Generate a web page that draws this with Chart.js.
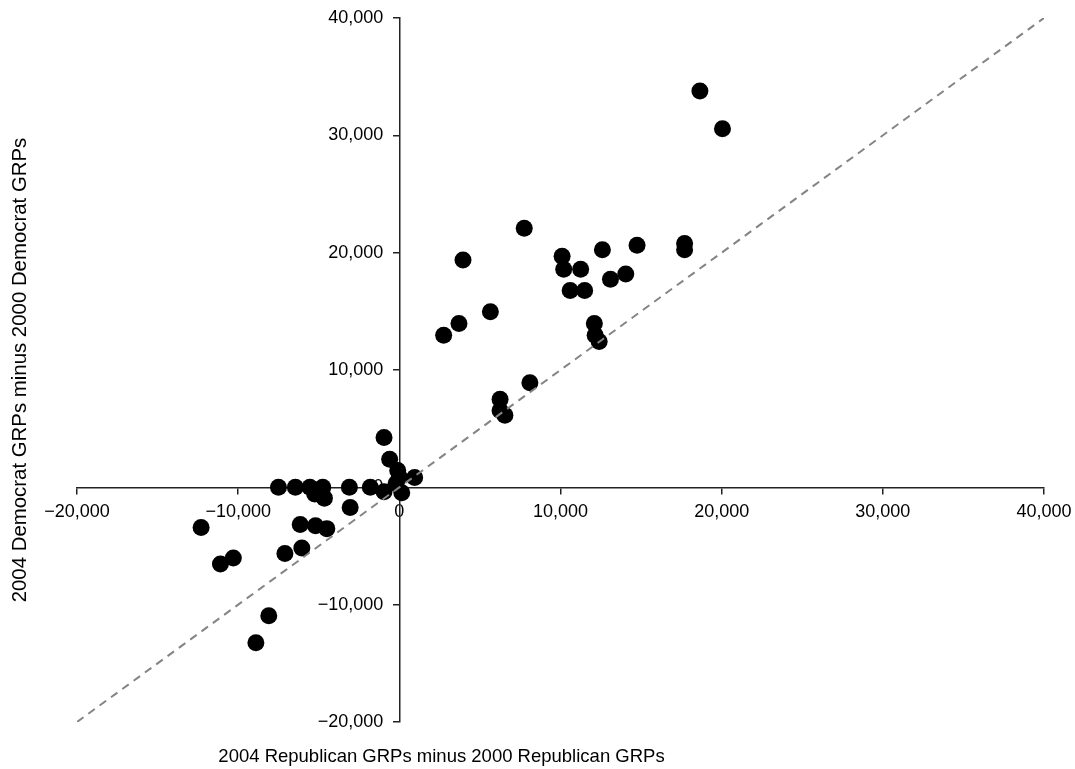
<!DOCTYPE html>
<html>
<head>
<meta charset="utf-8">
<script src="https://cdn.jsdelivr.net/npm/chart.js@4.4.0/dist/chart.umd.min.js"></script>
<style>
  html, body { margin: 0; padding: 0; background: #ffffff; }
  #wrap { width: 1075px; height: 769px; }
</style>
</head>
<body>
<div id="wrap"><canvas id="c" width="1075" height="769"></canvas></div>
<script>
// Change in Republican GRPs (2004 minus 2000), one value per market
const repChange = [
  -12300, -11100, -10300, -8900, -8100, -7500, -7100, -6450, -6150, -6050,
  -5550, -5250, -5200, -4750, -4650, -4500, -3100, -3050, -1800, -950,
  -600, -950, -100, 0, 950, 150, -200, 2750, 3700, 3950,
  5650, 6250, 6250, 6550, 7750, 8100, 10100, 10200, 10600, 11250,
  11500, 12100, 12150, 12400, 12600, 13100, 14050, 14750, 17700, 17700,
  18650, 20050
];
// Change in Democrat GRPs (2004 minus 2000), same markets
const demChange = [
  -3420, -6530, -6030, -13250, -10940, 0, -5630, 0, -3170, -5180,
  0, -570, -3270, 0, -920, -3520, 0, -1720, 0, 4250,
  2390, -370, 1440, 890, 840, -470, 320, 12970, 13970, 19380,
  14970, 7500, 6550, 6150, 22090, 8910, 19690, 18580, 16780, 18580,
  16780, 13970, 12970, 12420, 20240, 17730, 18180, 20640, 20790, 20240,
  33770, 30560
];
// Reference line y = x
const refLineX = [-20000, 40000];
const refLineY = [-20000, 40000];
// Axis tick values
const xTicks = [-20000, -10000, 0, 10000, 20000, 30000, 40000];
const yTicks = [-20000, -10000, 0, 10000, 20000, 30000, 40000];

const xTitle = '2004 Republican GRPs minus 2000 Republican GRPs';
const yTitle = '2004 Democrat GRPs minus 2000 Democrat GRPs';

const FONT = 'Liberation Sans, Arial, Helvetica, sans-serif';

function fmt(v) {
  const s = Math.abs(v).toLocaleString('en-US');
  return v < 0 ? '\u2212' + s : s;
}

function zeroBox(scale) {
  if (scale.isHorizontal()) { scale.height = 0; } else { scale.width = 0; }
  scale.paddingLeft = 0; scale.paddingRight = 0;
  scale.paddingTop = 0; scale.paddingBottom = 0;
}

const titlePlugin = {
  id: 'axisTitles',
  afterDraw(chart) {
    const ctx = chart.ctx;
    ctx.save();
    ctx.fillStyle = '#000';
    ctx.textAlign = 'center';
    ctx.textBaseline = 'middle';
    ctx.font = '18.5px ' + FONT;
    ctx.fillText(xTitle, 441.5, 756.5);
    ctx.translate(20, 370);
    ctx.rotate(-Math.PI / 2);
    ctx.font = '20.4px ' + FONT;
    ctx.fillText(yTitle, 0, 0);
    ctx.restore();
  }
};

const scatterData = repChange.map((x, i) => ({ x: x, y: demChange[i] }));
const lineData = refLineX.map((x, i) => ({ x: x, y: refLineY[i] }));

const tickFont = { family: FONT, size: 18 };

new Chart(document.getElementById('c'), {
  type: 'scatter',
  data: {
    datasets: [
      {
        type: 'line',
        data: lineData,
        borderColor: '#848484',
        borderWidth: 2,
        borderDash: [8, 6],
        pointRadius: 0,
        fill: false,
        order: 0
      },
      {
        type: 'scatter',
        data: scatterData,
        backgroundColor: '#000000',
        borderWidth: 0,
        pointRadius: 8.5,
        pointHoverRadius: 8.5,
        order: 1
      }
    ]
  },
  options: {
    responsive: false,
    animation: false,
    events: [],
    layout: { padding: { left: 77, right: 31, top: 18, bottom: 47 } },
    plugins: { legend: { display: false }, tooltip: { enabled: false } },
    scales: {
      x: {
        type: 'linear',
        min: -20000,
        max: 40000,
        position: { y: 0 },
        afterBuildTicks(scale) { scale.ticks = xTicks.map(v => ({ value: v })); },
        afterFit: zeroBox,
        ticks: {
          callback: v => fmt(v),
          color: '#000',
          font: tickFont,
          padding: 8,
          maxRotation: 0,
          autoSkip: false
        },
        grid: { drawOnChartArea: false, drawTicks: true, tickLength: 6, color: '#222', lineWidth: 1.5 },
        border: { display: true, color: '#222', width: 1.5 }
      },
      // label carrier for the vertical axis (labels sit just left of the axis line)
      y: {
        type: 'linear',
        min: -20000,
        max: 40000,
        position: { x: -1000 },
        afterBuildTicks(scale) { scale.ticks = yTicks.map(v => ({ value: v })); },
        afterFit: zeroBox,
        ticks: {
          callback: v => fmt(v),
          color: '#000',
          font: tickFont,
          autoSkip: false
        },
        grid: { display: false },
        border: { display: false }
      },
      // the vertical axis line and its tick marks at x = 0
      yLine: {
        type: 'linear',
        axis: 'y',
        min: -20000,
        max: 40000,
        position: { x: 0 },
        afterBuildTicks(scale) { scale.ticks = yTicks.map(v => ({ value: v })); },
        afterFit: zeroBox,
        ticks: { display: false },
        grid: { drawOnChartArea: false, drawTicks: true, tickLength: 6, color: '#222', lineWidth: 1.5 },
        border: { display: true, color: '#222', width: 1.5 }
      }
    }
  },
  plugins: [titlePlugin]
});
</script>
</body>
</html>
